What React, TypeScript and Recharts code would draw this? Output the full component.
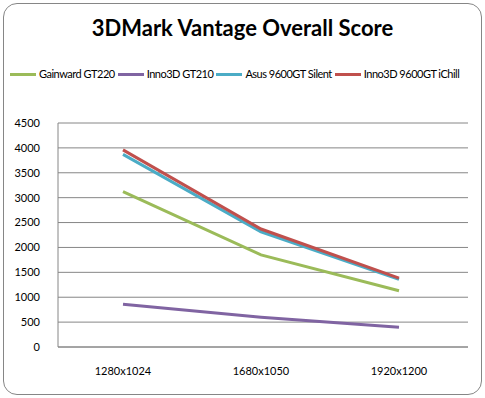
import { CartesianGrid, Legend, Line, LineChart, XAxis, YAxis } from 'recharts';

const resolutions = ['1280x1024', '1680x1050', '1920x1200'];
const gainwardGT220 = [3120, 1850, 1130];
const inno3dGT210 = [860, 600, 395];
const asus9600GTSilent = [3870, 2315, 1360];
const inno3d9600GTiChill = [3960, 2370, 1385];
const yTicks = [0, 500, 1000, 1500, 2000, 2500, 3000, 3500, 4000, 4500];

const seriesNames = ['Gainward GT220', 'Inno3D GT210', 'Asus 9600GT Silent', 'Inno3D 9600GT iChill'];
const seriesColors = ['#9BBB59', '#8064A2', '#4BACC6', '#C0504D'];
const seriesValues = [gainwardGT220, inno3dGT210, asus9600GTSilent, inno3d9600GTiChill];

const data = resolutions.map((res, i) => {
  const row: Record<string, string | number> = { res };
  seriesNames.forEach((name, s) => {
    row[name] = seriesValues[s][i];
  });
  return row;
});

const FONT = 'Lato, "Noto Sans", sans-serif';

function LegendContent() {
  return (
    <div
      style={{
        display: 'flex',
        alignItems: 'center',
        fontFamily: FONT,
        fontSize: 11,
        letterSpacing: -0.5,
        lineHeight: '14px',
        color: '#000',
        whiteSpace: 'nowrap',
      }}
    >
      {seriesNames.map((name, i) => (
        <span key={name} style={{ display: 'flex', alignItems: 'center', marginRight: 3 }}>
          <span style={{ display: 'inline-block', width: 26, height: 3, background: seriesColors[i], marginRight: 3 }} />
          {name}
        </span>
      ))}
    </div>
  );
}

export default function App() {
  return (
    <div style={{ position: 'absolute', left: 0, top: 0, width: 485, height: 398, background: '#fff' }}>
      <div
        style={{
          position: 'absolute',
          left: 3,
          top: 3,
          width: 477,
          height: 390,
          border: '1px solid #868686',
          borderRadius: 14,
        }}
      />
      <div
        style={{
          position: 'absolute',
          left: 0,
          top: 14,
          width: 485,
          textAlign: 'center',
          fontFamily: FONT,
          fontWeight: 700,
          fontSize: 22,
        }}
      >
        3DMark Vantage Overall Score
      </div>
      <LineChart width={485} height={398} data={data} margin={{ top: 109, right: 17, bottom: 21, left: 0 }}>
        <CartesianGrid vertical={false} stroke="#868686" />
        <XAxis
          dataKey="res"
          stroke="#868686"
          tickLine={false}
          padding={{ left: 65, right: 69 }}
          tick={{ fill: '#000', fontSize: 11, fontFamily: FONT }}
          tickMargin={14}
        />
        <YAxis
          domain={[0, 4500]}
          ticks={yTicks}
          width={58}
          stroke="#868686"
          tickLine={false}
          tick={{ fill: '#000', fontSize: 11, fontFamily: FONT }}
          tickMargin={12}
        />
        <Legend
          verticalAlign="top"
          content={<LegendContent />}
          wrapperStyle={{ position: 'absolute', top: 67, left: 10, width: 475 }}
        />
        {seriesNames.map((name, i) => (
          <Line
            key={name}
            dataKey={name}
            stroke={seriesColors[i]}
            strokeWidth={3}
            dot={false}
            isAnimationActive={false}
          />
        ))}
      </LineChart>
    </div>
  );
}
